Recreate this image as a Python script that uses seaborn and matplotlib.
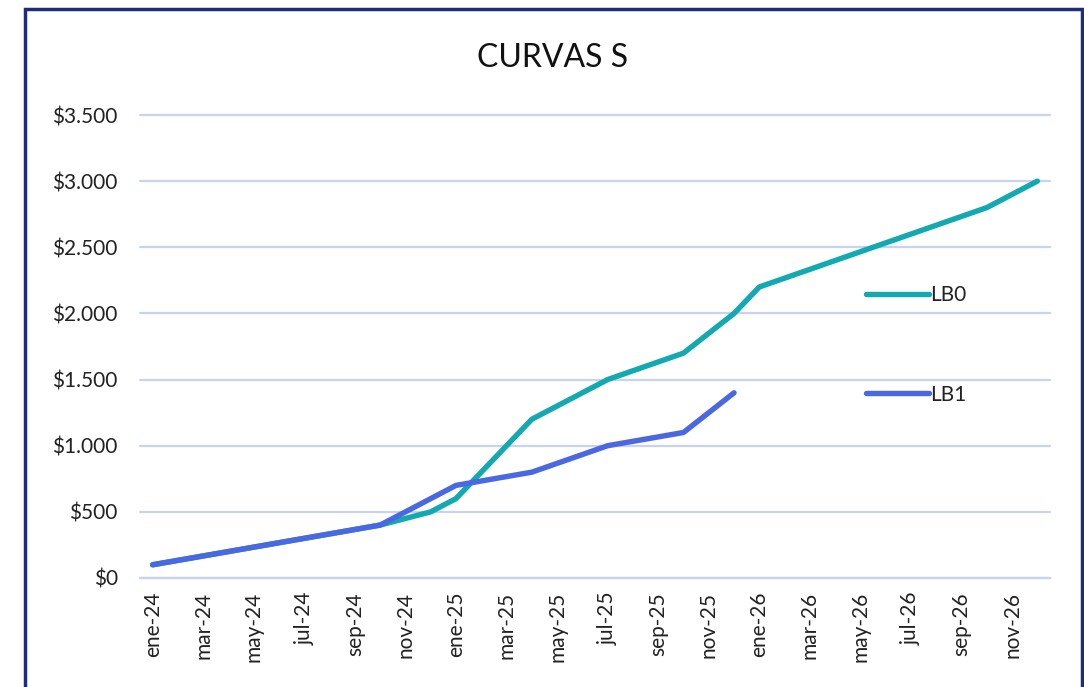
import matplotlib
matplotlib.use("Agg")
import matplotlib.pyplot as plt
import matplotlib.patches as mpatches
from matplotlib.ticker import FixedLocator, FuncFormatter
import seaborn as sns
import pandas as pd

# ---- data ----
month_names = ["ene", "feb", "mar", "abr", "may", "jun", "jul", "ago", "sep", "oct", "nov", "dic"]
years = ["24", "25", "26"]
all_months = [f"{m}-{y}" for y in years for m in month_names]

lb0_months = ["ene-24", "oct-24", "dic-24", "ene-25", "abr-25", "jul-25", "oct-25",
              "dic-25", "ene-26", "oct-26", "dic-26"]
lb0_values = [100, 400, 500, 600, 1200, 1500, 1700, 2000, 2200, 2800, 3000]

lb1_months = ["ene-24", "oct-24", "ene-25", "abr-25", "jul-25", "oct-25", "dic-25"]
lb1_values = [100, 400, 700, 800, 1000, 1100, 1400]

series_names = ["LB0", "LB1"]
series_colors = ["#13A9B1", "#4A68E1"]
y_ticks = [0, 500, 1000, 1500, 2000, 2500, 3000, 3500]
title = "CURVAS S"

df = pd.concat([
    pd.DataFrame({"mes": lb0_months, "valor": lb0_values, "serie": "LB0"}),
    pd.DataFrame({"mes": lb1_months, "valor": lb1_values, "serie": "LB1"}),
])
df["idx"] = df["mes"].map({m: i for i, m in enumerate(all_months)})

# ---- style ----
sns.set_theme(style="white")
plt.rcParams["font.family"] = ["Lato", "DejaVu Sans"]

W, H = 1084, 687
fig = plt.figure(figsize=(W / 100, H / 100), dpi=100)
fig.patch.set_facecolor("white")
ax = fig.add_axes([140 / W, 1 - 578 / H, (1050 - 140) / W, (578 - 115) / H])

grid_c = "#C9D2F3"

sns.lineplot(data=df, x="idx", y="valor", hue="serie", hue_order=series_names,
             palette=series_colors, linewidth=3.9, ax=ax, sort=True,
             estimator=None, legend=True)
for ln in ax.lines:
    ln.set_solid_capstyle("round")
    ln.set_solid_joinstyle("round")
    ln.set_zorder(3)

ax.set_xlim(-0.5, len(all_months) - 0.5)
ax.set_ylim(0, 3500)
ax.set_xlabel("")
ax.set_ylabel("")

# y axis
ax.set_yticks(y_ticks)
ax.yaxis.set_major_formatter(FuncFormatter(lambda v, p: "$" + f"{int(v):,}".replace(",", ".")))
ax.yaxis.grid(True, color=grid_c, linewidth=1.6)
ax.tick_params(axis="y", length=0, pad=16, labelsize=15, labelcolor="#222222")

# x axis: major ticks at boundaries, labels at centres
ax.xaxis.set_major_locator(FixedLocator([i - 0.5 for i in range(0, len(all_months) + 1, 2)]))
ax.xaxis.set_minor_locator(FixedLocator(list(range(0, len(all_months), 2))))
ax.xaxis.set_major_formatter(FuncFormatter(lambda v, p: ""))
ax.xaxis.set_minor_formatter(FuncFormatter(lambda v, p: all_months[int(round(v))]))
ax.tick_params(axis="x", which="major", length=8, width=1.6, color=grid_c, direction="out")
ax.tick_params(axis="x", which="minor", length=0, pad=10, labelsize=15,
               labelrotation=90, labelcolor="#222222")
ax.xaxis.grid(False)

for s in ["top", "right", "left"]:
    ax.spines[s].set_visible(False)
ax.spines["bottom"].set_color(grid_c)
ax.spines["bottom"].set_linewidth(1.6)
ax.set_axisbelow(True)

# legend
handles, labels = ax.get_legend_handles_labels()
for h in handles:
    h.set_linewidth(3.9)
    h.set_solid_capstyle("round")
leg = ax.legend(handles, labels, loc="center left",
                bbox_to_anchor=(866 / W, 1 - 345 / H), bbox_transform=fig.transFigure,
                frameon=False, fontsize=15, handlelength=3.0, handletextpad=0.1,
                labelspacing=3.8, borderpad=0, borderaxespad=0)
for t in leg.get_texts():
    t.set_color("#222222")

# title
fig.text(553 / W, 1 - 58 / H, title, ha="center", va="center", fontsize=23, color="#111111")

# outer border
border = mpatches.Rectangle((25 / W, -0.05), (1082 - 25) / W, (1 - 9 / H) + 0.05,
                            transform=fig.transFigure, fill=False,
                            edgecolor="#1F2C7C", linewidth=2.5, clip_on=False)
fig.patches.append(border)

fig.canvas.draw()
for gl in ax.get_ygridlines():
    gl.set_clip_on(False)

fig.savefig("out.png", dpi=100, facecolor="white")
